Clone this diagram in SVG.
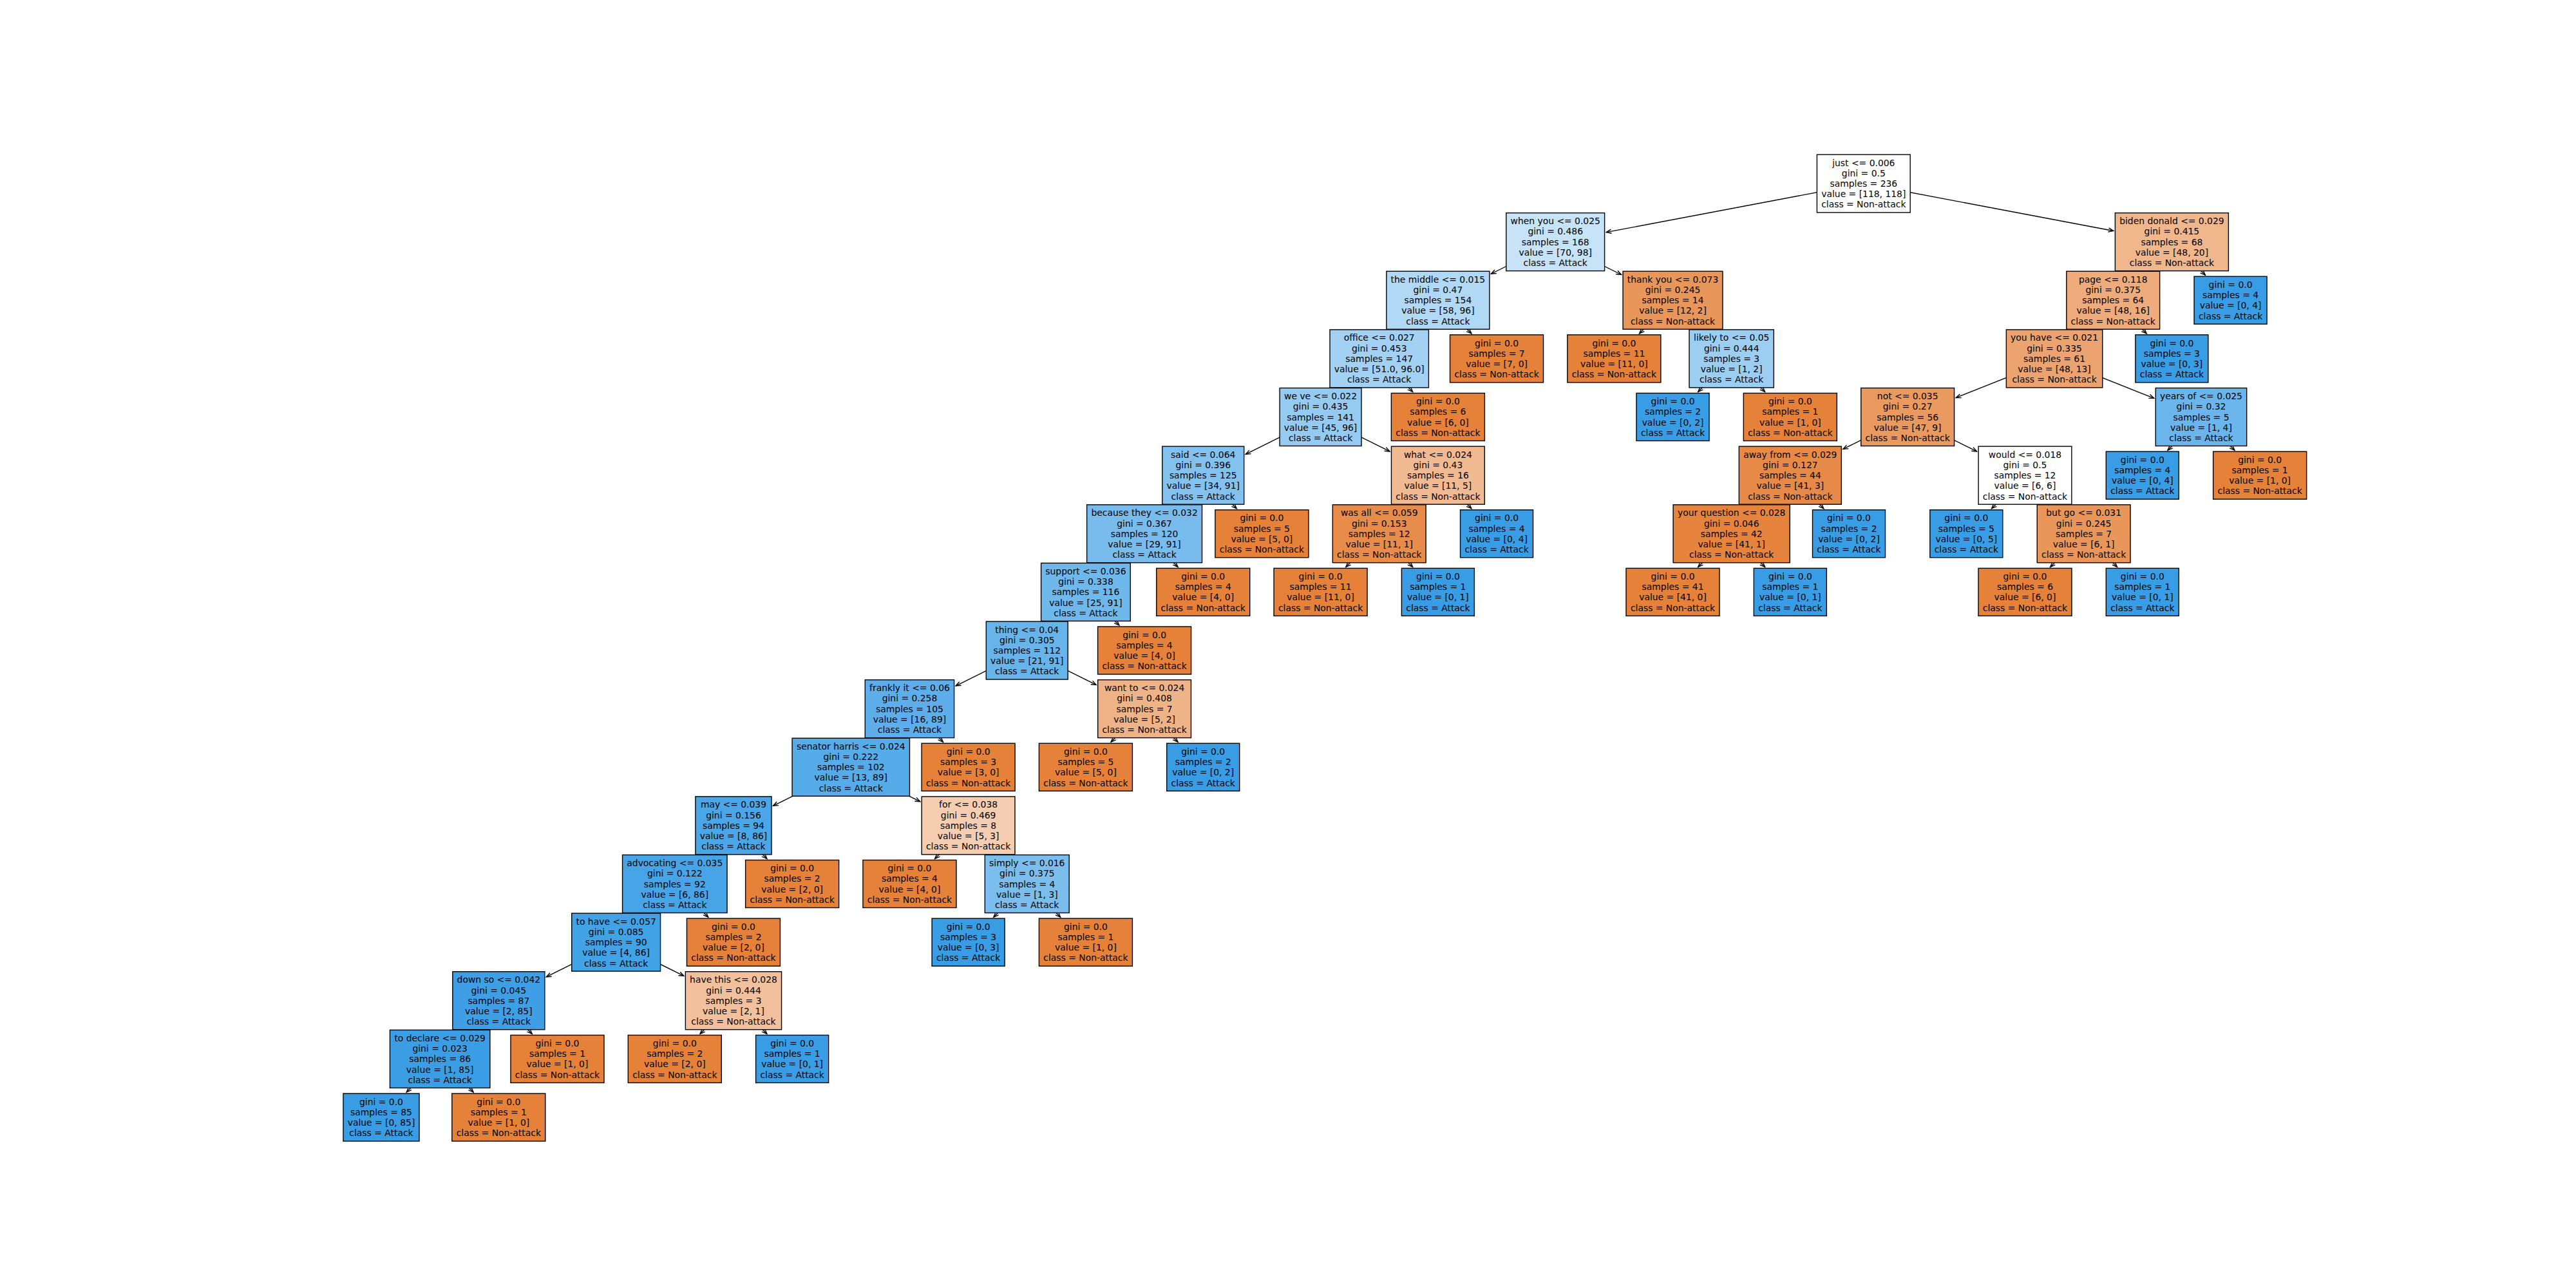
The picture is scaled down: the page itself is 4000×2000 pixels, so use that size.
<svg xmlns="http://www.w3.org/2000/svg" width="4000" height="2000" viewBox="0 0 4000 2000">
<style>
.e{stroke:#000;stroke-width:1.39;fill:none;marker-end:url(#ah)}
.b{stroke:#000;stroke-width:1.39}
.na{fill:#e58139}
.at{fill:#399de5}
text{font-family:"DejaVu Sans",sans-serif;font-size:13.9px;text-anchor:middle;fill:#000}
</style>
<defs>
<marker id="ah" viewBox="-10 -5 12 10" refX="0" refY="0" markerWidth="12" markerHeight="10" markerUnits="userSpaceOnUse" orient="auto">
<path d="M-7.8,-3.1 L0,0 L-7.8,3.1" fill="none" stroke="#000" stroke-width="1.39"/>
</marker>
</defs>
<rect width="4000" height="2000" fill="#fff"/>
<g id="connectors">
<line class="e" x1="2893.79" y1="285" x2="2494.36" y2="360.64"/>
<line class="e" x1="2893.79" y1="285" x2="3281.64" y2="358.45"/>
<line class="e" x1="2415.2" y1="375.63" x2="2315.38" y2="425.25"/>
<line class="e" x1="2415.2" y1="375.63" x2="2517.56" y2="426.5"/>
<line class="e" x1="2232.88" y1="466.25" x2="2188.98" y2="509.9"/>
<line class="e" x1="2232.88" y1="466.25" x2="2284.84" y2="517.9"/>
<line class="e" x1="2141.72" y1="556.88" x2="2097.82" y2="600.52"/>
<line class="e" x1="2141.72" y1="556.88" x2="2193.68" y2="608.52"/>
<line class="e" x1="2050.56" y1="647.5" x2="1934.2" y2="705.34"/>
<line class="e" x1="2050.56" y1="647.5" x2="2157.97" y2="700.89"/>
<line class="e" x1="1868.24" y1="738.13" x2="1824.34" y2="781.77"/>
<line class="e" x1="1868.24" y1="738.13" x2="1920.2" y2="789.77"/>
<line class="e" x1="1777.08" y1="828.75" x2="1733.18" y2="872.4"/>
<line class="e" x1="1777.08" y1="828.75" x2="1829.04" y2="880.4"/>
<line class="e" x1="1685.92" y1="919.38" x2="1642.02" y2="963.02"/>
<line class="e" x1="1685.92" y1="919.38" x2="1737.88" y2="971.02"/>
<line class="e" x1="1594.76" y1="1010" x2="1484.1" y2="1065.01"/>
<line class="e" x1="1594.76" y1="1010" x2="1702.17" y2="1063.39"/>
<line class="e" x1="1412.44" y1="1100.63" x2="1368.54" y2="1144.27"/>
<line class="e" x1="1412.44" y1="1100.63" x2="1464.4" y2="1152.27"/>
<line class="e" x1="1321.28" y1="1191.25" x2="1200.51" y2="1251.28"/>
<line class="e" x1="1321.28" y1="1191.25" x2="1428.69" y2="1244.64"/>
<line class="e" x1="1138.96" y1="1281.88" x2="1095.06" y2="1325.52"/>
<line class="e" x1="1138.96" y1="1281.88" x2="1190.92" y2="1333.52"/>
<line class="e" x1="1047.8" y1="1372.5" x2="1003.9" y2="1416.15"/>
<line class="e" x1="1047.8" y1="1372.5" x2="1099.76" y2="1424.15"/>
<line class="e" x1="956.64" y1="1463.13" x2="848.32" y2="1516.96"/>
<line class="e" x1="956.64" y1="1463.13" x2="1061.86" y2="1515.42"/>
<line class="e" x1="774.32" y1="1553.75" x2="730.42" y2="1597.4"/>
<line class="e" x1="774.32" y1="1553.75" x2="826.28" y2="1605.4"/>
<line class="e" x1="683.16" y1="1644.38" x2="631.2" y2="1696.02"/>
<line class="e" x1="683.16" y1="1644.38" x2="735.12" y2="1696.02"/>
<line class="e" x1="1138.96" y1="1553.75" x2="1087" y2="1605.4"/>
<line class="e" x1="1138.96" y1="1553.75" x2="1190.92" y2="1605.4"/>
<line class="e" x1="1503.6" y1="1281.88" x2="1451.64" y2="1333.52"/>
<line class="e" x1="1503.6" y1="1281.88" x2="1547.5" y2="1325.52"/>
<line class="e" x1="1594.76" y1="1372.5" x2="1542.8" y2="1424.15"/>
<line class="e" x1="1594.76" y1="1372.5" x2="1646.72" y2="1424.15"/>
<line class="e" x1="1777.08" y1="1100.63" x2="1725.12" y2="1152.27"/>
<line class="e" x1="1777.08" y1="1100.63" x2="1829.04" y2="1152.27"/>
<line class="e" x1="2232.88" y1="738.13" x2="2188.98" y2="781.77"/>
<line class="e" x1="2232.88" y1="738.13" x2="2284.84" y2="789.77"/>
<line class="e" x1="2141.72" y1="828.75" x2="2089.76" y2="880.4"/>
<line class="e" x1="2141.72" y1="828.75" x2="2193.68" y2="880.4"/>
<line class="e" x1="2597.52" y1="466.25" x2="2545.56" y2="517.9"/>
<line class="e" x1="2597.52" y1="466.25" x2="2641.42" y2="509.9"/>
<line class="e" x1="2688.68" y1="556.88" x2="2636.72" y2="608.52"/>
<line class="e" x1="2688.68" y1="556.88" x2="2740.64" y2="608.52"/>
<line class="e" x1="3372.38" y1="375.63" x2="3328.48" y2="419.27"/>
<line class="e" x1="3372.38" y1="375.63" x2="3424.34" y2="427.27"/>
<line class="e" x1="3281.22" y1="466.25" x2="3237.32" y2="509.9"/>
<line class="e" x1="3281.22" y1="466.25" x2="3333.18" y2="517.9"/>
<line class="e" x1="3190.06" y1="556.88" x2="3037.16" y2="617.67"/>
<line class="e" x1="3190.06" y1="556.88" x2="3344.67" y2="618.35"/>
<line class="e" x1="2962.16" y1="647.5" x2="2861.85" y2="697.37"/>
<line class="e" x1="2962.16" y1="647.5" x2="3069.57" y2="700.89"/>
<line class="e" x1="2779.84" y1="738.13" x2="2735.94" y2="781.77"/>
<line class="e" x1="2779.84" y1="738.13" x2="2831.8" y2="789.77"/>
<line class="e" x1="2688.68" y1="828.75" x2="2636.72" y2="880.4"/>
<line class="e" x1="2688.68" y1="828.75" x2="2740.64" y2="880.4"/>
<line class="e" x1="3144.48" y1="738.13" x2="3092.52" y2="789.77"/>
<line class="e" x1="3144.48" y1="738.13" x2="3188.38" y2="781.77"/>
<line class="e" x1="3235.64" y1="828.75" x2="3183.68" y2="880.4"/>
<line class="e" x1="3235.64" y1="828.75" x2="3287.6" y2="880.4"/>
<line class="e" x1="3417.96" y1="647.5" x2="3366" y2="699.15"/>
<line class="e" x1="3417.96" y1="647.5" x2="3469.92" y2="699.15"/>
</g>
<g id="nodes">
<g id="n-root" transform="translate(2893.79,285)"><rect class="b" x="-72.4" y="-45" width="144.8" height="90" fill="#ffffff"/><text><tspan x="0" y="-27.4">just &lt;= 0.006</tspan><tspan x="0" y="-11.2">gini = 0.5</tspan><tspan x="0" y="5">samples = 236</tspan><tspan x="0" y="21.2">value = [118, 118]</tspan><tspan x="0" y="37.4">class = Non-attack</tspan></text></g>
<g id="n-when-you" transform="translate(2415.2,375.63)"><rect class="b" x="-76.4" y="-45" width="152.8" height="90" fill="#c6e3f8"/><text><tspan x="0" y="-27.4">when you &lt;= 0.025</tspan><tspan x="0" y="-11.2">gini = 0.486</tspan><tspan x="0" y="5">samples = 168</tspan><tspan x="0" y="21.2">value = [70, 98]</tspan><tspan x="0" y="37.4">class = Attack</tspan></text></g>
<g id="n-biden-donald" transform="translate(3372.38,375.63)"><rect class="b" x="-88" y="-45" width="176" height="90" fill="#f0b68c"/><text><tspan x="0" y="-27.4">biden donald &lt;= 0.029</tspan><tspan x="0" y="-11.2">gini = 0.415</tspan><tspan x="0" y="5">samples = 68</tspan><tspan x="0" y="21.2">value = [48, 20]</tspan><tspan x="0" y="37.4">class = Non-attack</tspan></text></g>
<g id="n-the-middle" transform="translate(2232.88,466.25)"><rect class="b" x="-80" y="-45" width="160" height="90" fill="#b1d8f5"/><text><tspan x="0" y="-27.4">the middle &lt;= 0.015</tspan><tspan x="0" y="-11.2">gini = 0.47</tspan><tspan x="0" y="5">samples = 154</tspan><tspan x="0" y="21.2">value = [58, 96]</tspan><tspan x="0" y="37.4">class = Attack</tspan></text></g>
<g id="n-thank-you" transform="translate(2597.52,466.25)"><rect class="b" x="-77.45" y="-45" width="154.9" height="90" fill="#e9965a"/><text><tspan x="0" y="-27.4">thank you &lt;= 0.073</tspan><tspan x="0" y="-11.2">gini = 0.245</tspan><tspan x="0" y="5">samples = 14</tspan><tspan x="0" y="21.2">value = [12, 2]</tspan><tspan x="0" y="37.4">class = Non-attack</tspan></text></g>
<g id="n-page" transform="translate(3281.22,466.25)"><rect class="b" x="-72.4" y="-45" width="144.8" height="90" fill="#eeab7b"/><text><tspan x="0" y="-27.4">page &lt;= 0.118</tspan><tspan x="0" y="-11.2">gini = 0.375</tspan><tspan x="0" y="5">samples = 64</tspan><tspan x="0" y="21.2">value = [48, 16]</tspan><tspan x="0" y="37.4">class = Non-attack</tspan></text></g>
<g id="n-leaf-b-r" transform="translate(3463.54,466.25)"><rect class="b at" x="-56.5" y="-37" width="113" height="74"/><text><tspan x="0" y="-19.3">gini = 0.0</tspan><tspan x="0" y="-3.1">samples = 4</tspan><tspan x="0" y="13.1">value = [0, 4]</tspan><tspan x="0" y="29.3">class = Attack</tspan></text></g>
<g id="n-office" transform="translate(2141.72,556.88)"><rect class="b" x="-76.7" y="-45" width="153.4" height="90" fill="#a2d1f3"/><text><tspan x="0" y="-27.4">office &lt;= 0.027</tspan><tspan x="0" y="-11.2">gini = 0.453</tspan><tspan x="0" y="5">samples = 147</tspan><tspan x="0" y="21.2">value = [51.0, 96.0]</tspan><tspan x="0" y="37.4">class = Attack</tspan></text></g>
<g id="n-leaf-tm-r" transform="translate(2324.04,556.88)"><rect class="b na" x="-72.5" y="-37" width="145" height="74"/><text><tspan x="0" y="-19.3">gini = 0.0</tspan><tspan x="0" y="-3.1">samples = 7</tspan><tspan x="0" y="13.1">value = [7, 0]</tspan><tspan x="0" y="29.3">class = Non-attack</tspan></text></g>
<g id="n-leaf-ty-l" transform="translate(2506.36,556.88)"><rect class="b na" x="-72.5" y="-37" width="145" height="74"/><text><tspan x="0" y="-19.3">gini = 0.0</tspan><tspan x="0" y="-3.1">samples = 11</tspan><tspan x="0" y="13.1">value = [11, 0]</tspan><tspan x="0" y="29.3">class = Non-attack</tspan></text></g>
<g id="n-likely-to" transform="translate(2688.68,556.88)"><rect class="b" x="-65.65" y="-45" width="131.3" height="90" fill="#9ccef2"/><text><tspan x="0" y="-27.4">likely to &lt;= 0.05</tspan><tspan x="0" y="-11.2">gini = 0.444</tspan><tspan x="0" y="5">samples = 3</tspan><tspan x="0" y="21.2">value = [1, 2]</tspan><tspan x="0" y="37.4">class = Attack</tspan></text></g>
<g id="n-you-have" transform="translate(3190.06,556.88)"><rect class="b" x="-74.7" y="-45" width="149.4" height="90" fill="#eca36f"/><text><tspan x="0" y="-27.4">you have &lt;= 0.021</tspan><tspan x="0" y="-11.2">gini = 0.335</tspan><tspan x="0" y="5">samples = 61</tspan><tspan x="0" y="21.2">value = [48, 13]</tspan><tspan x="0" y="37.4">class = Non-attack</tspan></text></g>
<g id="n-leaf-pg-r" transform="translate(3372.38,556.88)"><rect class="b at" x="-56.5" y="-37" width="113" height="74"/><text><tspan x="0" y="-19.3">gini = 0.0</tspan><tspan x="0" y="-3.1">samples = 3</tspan><tspan x="0" y="13.1">value = [0, 3]</tspan><tspan x="0" y="29.3">class = Attack</tspan></text></g>
<g id="n-we-ve" transform="translate(2050.56,647.5)"><rect class="b" x="-63.45" y="-45" width="126.9" height="90" fill="#96cbf1"/><text><tspan x="0" y="-27.4">we ve &lt;= 0.022</tspan><tspan x="0" y="-11.2">gini = 0.435</tspan><tspan x="0" y="5">samples = 141</tspan><tspan x="0" y="21.2">value = [45, 96]</tspan><tspan x="0" y="37.4">class = Attack</tspan></text></g>
<g id="n-leaf-of-r" transform="translate(2232.88,647.5)"><rect class="b na" x="-72.5" y="-37" width="145" height="74"/><text><tspan x="0" y="-19.3">gini = 0.0</tspan><tspan x="0" y="-3.1">samples = 6</tspan><tspan x="0" y="13.1">value = [6, 0]</tspan><tspan x="0" y="29.3">class = Non-attack</tspan></text></g>
<g id="n-leaf-lt-l" transform="translate(2597.52,647.5)"><rect class="b at" x="-56.5" y="-37" width="113" height="74"/><text><tspan x="0" y="-19.3">gini = 0.0</tspan><tspan x="0" y="-3.1">samples = 2</tspan><tspan x="0" y="13.1">value = [0, 2]</tspan><tspan x="0" y="29.3">class = Attack</tspan></text></g>
<g id="n-leaf-lt-r" transform="translate(2779.84,647.5)"><rect class="b na" x="-72.5" y="-37" width="145" height="74"/><text><tspan x="0" y="-19.3">gini = 0.0</tspan><tspan x="0" y="-3.1">samples = 1</tspan><tspan x="0" y="13.1">value = [1, 0]</tspan><tspan x="0" y="29.3">class = Non-attack</tspan></text></g>
<g id="n-not" transform="translate(2962.16,647.5)"><rect class="b" x="-72.4" y="-45" width="144.8" height="90" fill="#ea995f"/><text><tspan x="0" y="-27.4">not &lt;= 0.035</tspan><tspan x="0" y="-11.2">gini = 0.27</tspan><tspan x="0" y="5">samples = 56</tspan><tspan x="0" y="21.2">value = [47, 9]</tspan><tspan x="0" y="37.4">class = Non-attack</tspan></text></g>
<g id="n-years-of" transform="translate(3417.96,647.5)"><rect class="b" x="-70.7" y="-45" width="141.4" height="90" fill="#6ab6ec"/><text><tspan x="0" y="-27.4">years of &lt;= 0.025</tspan><tspan x="0" y="-11.2">gini = 0.32</tspan><tspan x="0" y="5">samples = 5</tspan><tspan x="0" y="21.2">value = [1, 4]</tspan><tspan x="0" y="37.4">class = Attack</tspan></text></g>
<g id="n-said" transform="translate(1868.24,738.13)"><rect class="b" x="-63.45" y="-45" width="126.9" height="90" fill="#83c2ef"/><text><tspan x="0" y="-27.4">said &lt;= 0.064</tspan><tspan x="0" y="-11.2">gini = 0.396</tspan><tspan x="0" y="5">samples = 125</tspan><tspan x="0" y="21.2">value = [34, 91]</tspan><tspan x="0" y="37.4">class = Attack</tspan></text></g>
<g id="n-what" transform="translate(2232.88,738.13)"><rect class="b" x="-72.4" y="-45" width="144.8" height="90" fill="#f1ba93"/><text><tspan x="0" y="-27.4">what &lt;= 0.024</tspan><tspan x="0" y="-11.2">gini = 0.43</tspan><tspan x="0" y="5">samples = 16</tspan><tspan x="0" y="21.2">value = [11, 5]</tspan><tspan x="0" y="37.4">class = Non-attack</tspan></text></g>
<g id="n-away-from" transform="translate(2779.84,738.13)"><rect class="b" x="-79.5" y="-45" width="159" height="90" fill="#e78a48"/><text><tspan x="0" y="-27.4">away from &lt;= 0.029</tspan><tspan x="0" y="-11.2">gini = 0.127</tspan><tspan x="0" y="5">samples = 44</tspan><tspan x="0" y="21.2">value = [41, 3]</tspan><tspan x="0" y="37.4">class = Non-attack</tspan></text></g>
<g id="n-would" transform="translate(3144.48,738.13)"><rect class="b" x="-72.4" y="-45" width="144.8" height="90" fill="#ffffff"/><text><tspan x="0" y="-27.4">would &lt;= 0.018</tspan><tspan x="0" y="-11.2">gini = 0.5</tspan><tspan x="0" y="5">samples = 12</tspan><tspan x="0" y="21.2">value = [6, 6]</tspan><tspan x="0" y="37.4">class = Non-attack</tspan></text></g>
<g id="n-leaf-yo-l" transform="translate(3326.8,738.13)"><rect class="b at" x="-56.5" y="-37" width="113" height="74"/><text><tspan x="0" y="-19.3">gini = 0.0</tspan><tspan x="0" y="-3.1">samples = 4</tspan><tspan x="0" y="13.1">value = [0, 4]</tspan><tspan x="0" y="29.3">class = Attack</tspan></text></g>
<g id="n-leaf-yo-r" transform="translate(3509.12,738.13)"><rect class="b na" x="-72.5" y="-37" width="145" height="74"/><text><tspan x="0" y="-19.3">gini = 0.0</tspan><tspan x="0" y="-3.1">samples = 1</tspan><tspan x="0" y="13.1">value = [1, 0]</tspan><tspan x="0" y="29.3">class = Non-attack</tspan></text></g>
<g id="n-because-they" transform="translate(1777.08,828.75)"><rect class="b" x="-89.45" y="-45" width="178.9" height="90" fill="#78bced"/><text><tspan x="0" y="-27.4">because they &lt;= 0.032</tspan><tspan x="0" y="-11.2">gini = 0.367</tspan><tspan x="0" y="5">samples = 120</tspan><tspan x="0" y="21.2">value = [29, 91]</tspan><tspan x="0" y="37.4">class = Attack</tspan></text></g>
<g id="n-leaf-sd-r" transform="translate(1959.4,828.75)"><rect class="b na" x="-72.5" y="-37" width="145" height="74"/><text><tspan x="0" y="-19.3">gini = 0.0</tspan><tspan x="0" y="-3.1">samples = 5</tspan><tspan x="0" y="13.1">value = [5, 0]</tspan><tspan x="0" y="29.3">class = Non-attack</tspan></text></g>
<g id="n-was-all" transform="translate(2141.72,828.75)"><rect class="b" x="-72.4" y="-45" width="144.8" height="90" fill="#e78c4b"/><text><tspan x="0" y="-27.4">was all &lt;= 0.059</tspan><tspan x="0" y="-11.2">gini = 0.153</tspan><tspan x="0" y="5">samples = 12</tspan><tspan x="0" y="21.2">value = [11, 1]</tspan><tspan x="0" y="37.4">class = Non-attack</tspan></text></g>
<g id="n-leaf-wh-r" transform="translate(2324.04,828.75)"><rect class="b at" x="-56.5" y="-37" width="113" height="74"/><text><tspan x="0" y="-19.3">gini = 0.0</tspan><tspan x="0" y="-3.1">samples = 4</tspan><tspan x="0" y="13.1">value = [0, 4]</tspan><tspan x="0" y="29.3">class = Attack</tspan></text></g>
<g id="n-your-question" transform="translate(2688.68,828.75)"><rect class="b" x="-90.55" y="-45" width="181.1" height="90" fill="#e6843e"/><text><tspan x="0" y="-27.4">your question &lt;= 0.028</tspan><tspan x="0" y="-11.2">gini = 0.046</tspan><tspan x="0" y="5">samples = 42</tspan><tspan x="0" y="21.2">value = [41, 1]</tspan><tspan x="0" y="37.4">class = Non-attack</tspan></text></g>
<g id="n-leaf-af-r" transform="translate(2871,828.75)"><rect class="b at" x="-56.5" y="-37" width="113" height="74"/><text><tspan x="0" y="-19.3">gini = 0.0</tspan><tspan x="0" y="-3.1">samples = 2</tspan><tspan x="0" y="13.1">value = [0, 2]</tspan><tspan x="0" y="29.3">class = Attack</tspan></text></g>
<g id="n-leaf-wd-l" transform="translate(3053.32,828.75)"><rect class="b at" x="-56.5" y="-37" width="113" height="74"/><text><tspan x="0" y="-19.3">gini = 0.0</tspan><tspan x="0" y="-3.1">samples = 5</tspan><tspan x="0" y="13.1">value = [0, 5]</tspan><tspan x="0" y="29.3">class = Attack</tspan></text></g>
<g id="n-but-go" transform="translate(3235.64,828.75)"><rect class="b" x="-72.4" y="-45" width="144.8" height="90" fill="#e9965a"/><text><tspan x="0" y="-27.4">but go &lt;= 0.031</tspan><tspan x="0" y="-11.2">gini = 0.245</tspan><tspan x="0" y="5">samples = 7</tspan><tspan x="0" y="21.2">value = [6, 1]</tspan><tspan x="0" y="37.4">class = Non-attack</tspan></text></g>
<g id="n-support" transform="translate(1685.92,919.38)"><rect class="b" x="-69.35" y="-45" width="138.7" height="90" fill="#6fb8ec"/><text><tspan x="0" y="-27.4">support &lt;= 0.036</tspan><tspan x="0" y="-11.2">gini = 0.338</tspan><tspan x="0" y="5">samples = 116</tspan><tspan x="0" y="21.2">value = [25, 91]</tspan><tspan x="0" y="37.4">class = Attack</tspan></text></g>
<g id="n-leaf-bt-r" transform="translate(1868.24,919.38)"><rect class="b na" x="-72.5" y="-37" width="145" height="74"/><text><tspan x="0" y="-19.3">gini = 0.0</tspan><tspan x="0" y="-3.1">samples = 4</tspan><tspan x="0" y="13.1">value = [4, 0]</tspan><tspan x="0" y="29.3">class = Non-attack</tspan></text></g>
<g id="n-leaf-wa-l" transform="translate(2050.56,919.38)"><rect class="b na" x="-72.5" y="-37" width="145" height="74"/><text><tspan x="0" y="-19.3">gini = 0.0</tspan><tspan x="0" y="-3.1">samples = 11</tspan><tspan x="0" y="13.1">value = [11, 0]</tspan><tspan x="0" y="29.3">class = Non-attack</tspan></text></g>
<g id="n-leaf-wa-r" transform="translate(2232.88,919.38)"><rect class="b at" x="-56.5" y="-37" width="113" height="74"/><text><tspan x="0" y="-19.3">gini = 0.0</tspan><tspan x="0" y="-3.1">samples = 1</tspan><tspan x="0" y="13.1">value = [0, 1]</tspan><tspan x="0" y="29.3">class = Attack</tspan></text></g>
<g id="n-leaf-yq-l" transform="translate(2597.52,919.38)"><rect class="b na" x="-72.5" y="-37" width="145" height="74"/><text><tspan x="0" y="-19.3">gini = 0.0</tspan><tspan x="0" y="-3.1">samples = 41</tspan><tspan x="0" y="13.1">value = [41, 0]</tspan><tspan x="0" y="29.3">class = Non-attack</tspan></text></g>
<g id="n-leaf-yq-r" transform="translate(2779.84,919.38)"><rect class="b at" x="-56.5" y="-37" width="113" height="74"/><text><tspan x="0" y="-19.3">gini = 0.0</tspan><tspan x="0" y="-3.1">samples = 1</tspan><tspan x="0" y="13.1">value = [0, 1]</tspan><tspan x="0" y="29.3">class = Attack</tspan></text></g>
<g id="n-leaf-bg-l" transform="translate(3144.48,919.38)"><rect class="b na" x="-72.5" y="-37" width="145" height="74"/><text><tspan x="0" y="-19.3">gini = 0.0</tspan><tspan x="0" y="-3.1">samples = 6</tspan><tspan x="0" y="13.1">value = [6, 0]</tspan><tspan x="0" y="29.3">class = Non-attack</tspan></text></g>
<g id="n-leaf-bg-r" transform="translate(3326.8,919.38)"><rect class="b at" x="-56.5" y="-37" width="113" height="74"/><text><tspan x="0" y="-19.3">gini = 0.0</tspan><tspan x="0" y="-3.1">samples = 1</tspan><tspan x="0" y="13.1">value = [0, 1]</tspan><tspan x="0" y="29.3">class = Attack</tspan></text></g>
<g id="n-thing" transform="translate(1594.76,1010)"><rect class="b" x="-63.45" y="-45" width="126.9" height="90" fill="#67b4eb"/><text><tspan x="0" y="-27.4">thing &lt;= 0.04</tspan><tspan x="0" y="-11.2">gini = 0.305</tspan><tspan x="0" y="5">samples = 112</tspan><tspan x="0" y="21.2">value = [21, 91]</tspan><tspan x="0" y="37.4">class = Attack</tspan></text></g>
<g id="n-leaf-sp-r" transform="translate(1777.08,1010)"><rect class="b na" x="-72.5" y="-37" width="145" height="74"/><text><tspan x="0" y="-19.3">gini = 0.0</tspan><tspan x="0" y="-3.1">samples = 4</tspan><tspan x="0" y="13.1">value = [4, 0]</tspan><tspan x="0" y="29.3">class = Non-attack</tspan></text></g>
<g id="n-frankly-it" transform="translate(1412.44,1100.63)"><rect class="b" x="-69.15" y="-45" width="138.3" height="90" fill="#5daeea"/><text><tspan x="0" y="-27.4">frankly it &lt;= 0.06</tspan><tspan x="0" y="-11.2">gini = 0.258</tspan><tspan x="0" y="5">samples = 105</tspan><tspan x="0" y="21.2">value = [16, 89]</tspan><tspan x="0" y="37.4">class = Attack</tspan></text></g>
<g id="n-want-to" transform="translate(1777.08,1100.63)"><rect class="b" x="-72.4" y="-45" width="144.8" height="90" fill="#efb388"/><text><tspan x="0" y="-27.4">want to &lt;= 0.024</tspan><tspan x="0" y="-11.2">gini = 0.408</tspan><tspan x="0" y="5">samples = 7</tspan><tspan x="0" y="21.2">value = [5, 2]</tspan><tspan x="0" y="37.4">class = Non-attack</tspan></text></g>
<g id="n-senator-harris" transform="translate(1321.28,1191.25)"><rect class="b" x="-91.2" y="-45" width="182.4" height="90" fill="#56abe9"/><text><tspan x="0" y="-27.4">senator harris &lt;= 0.024</tspan><tspan x="0" y="-11.2">gini = 0.222</tspan><tspan x="0" y="5">samples = 102</tspan><tspan x="0" y="21.2">value = [13, 89]</tspan><tspan x="0" y="37.4">class = Attack</tspan></text></g>
<g id="n-leaf-fi-r" transform="translate(1503.6,1191.25)"><rect class="b na" x="-72.5" y="-37" width="145" height="74"/><text><tspan x="0" y="-19.3">gini = 0.0</tspan><tspan x="0" y="-3.1">samples = 3</tspan><tspan x="0" y="13.1">value = [3, 0]</tspan><tspan x="0" y="29.3">class = Non-attack</tspan></text></g>
<g id="n-leaf-wt-l" transform="translate(1685.92,1191.25)"><rect class="b na" x="-72.5" y="-37" width="145" height="74"/><text><tspan x="0" y="-19.3">gini = 0.0</tspan><tspan x="0" y="-3.1">samples = 5</tspan><tspan x="0" y="13.1">value = [5, 0]</tspan><tspan x="0" y="29.3">class = Non-attack</tspan></text></g>
<g id="n-leaf-wt-r" transform="translate(1868.24,1191.25)"><rect class="b at" x="-56.5" y="-37" width="113" height="74"/><text><tspan x="0" y="-19.3">gini = 0.0</tspan><tspan x="0" y="-3.1">samples = 2</tspan><tspan x="0" y="13.1">value = [0, 2]</tspan><tspan x="0" y="29.3">class = Attack</tspan></text></g>
<g id="n-may" transform="translate(1138.96,1281.88)"><rect class="b" x="-59.05" y="-45" width="118.1" height="90" fill="#4ba6e7"/><text><tspan x="0" y="-27.4">may &lt;= 0.039</tspan><tspan x="0" y="-11.2">gini = 0.156</tspan><tspan x="0" y="5">samples = 94</tspan><tspan x="0" y="21.2">value = [8, 86]</tspan><tspan x="0" y="37.4">class = Attack</tspan></text></g>
<g id="n-for" transform="translate(1503.6,1281.88)"><rect class="b" x="-72.4" y="-45" width="144.8" height="90" fill="#f5cdb0"/><text><tspan x="0" y="-27.4">for &lt;= 0.038</tspan><tspan x="0" y="-11.2">gini = 0.469</tspan><tspan x="0" y="5">samples = 8</tspan><tspan x="0" y="21.2">value = [5, 3]</tspan><tspan x="0" y="37.4">class = Non-attack</tspan></text></g>
<g id="n-advocating" transform="translate(1047.8,1372.5)"><rect class="b" x="-81.25" y="-45" width="162.5" height="90" fill="#47a4e7"/><text><tspan x="0" y="-27.4">advocating &lt;= 0.035</tspan><tspan x="0" y="-11.2">gini = 0.122</tspan><tspan x="0" y="5">samples = 92</tspan><tspan x="0" y="21.2">value = [6, 86]</tspan><tspan x="0" y="37.4">class = Attack</tspan></text></g>
<g id="n-leaf-my-r" transform="translate(1230.12,1372.5)"><rect class="b na" x="-72.5" y="-37" width="145" height="74"/><text><tspan x="0" y="-19.3">gini = 0.0</tspan><tspan x="0" y="-3.1">samples = 2</tspan><tspan x="0" y="13.1">value = [2, 0]</tspan><tspan x="0" y="29.3">class = Non-attack</tspan></text></g>
<g id="n-leaf-fr-l" transform="translate(1412.44,1372.5)"><rect class="b na" x="-72.5" y="-37" width="145" height="74"/><text><tspan x="0" y="-19.3">gini = 0.0</tspan><tspan x="0" y="-3.1">samples = 4</tspan><tspan x="0" y="13.1">value = [4, 0]</tspan><tspan x="0" y="29.3">class = Non-attack</tspan></text></g>
<g id="n-simply" transform="translate(1594.76,1372.5)"><rect class="b" x="-65.45" y="-45" width="130.9" height="90" fill="#7bbeee"/><text><tspan x="0" y="-27.4">simply &lt;= 0.016</tspan><tspan x="0" y="-11.2">gini = 0.375</tspan><tspan x="0" y="5">samples = 4</tspan><tspan x="0" y="21.2">value = [1, 3]</tspan><tspan x="0" y="37.4">class = Attack</tspan></text></g>
<g id="n-to-have" transform="translate(956.64,1463.13)"><rect class="b" x="-68.9" y="-45" width="137.8" height="90" fill="#42a2e6"/><text><tspan x="0" y="-27.4">to have &lt;= 0.057</tspan><tspan x="0" y="-11.2">gini = 0.085</tspan><tspan x="0" y="5">samples = 90</tspan><tspan x="0" y="21.2">value = [4, 86]</tspan><tspan x="0" y="37.4">class = Attack</tspan></text></g>
<g id="n-leaf-ad-r" transform="translate(1138.96,1463.13)"><rect class="b na" x="-72.5" y="-37" width="145" height="74"/><text><tspan x="0" y="-19.3">gini = 0.0</tspan><tspan x="0" y="-3.1">samples = 2</tspan><tspan x="0" y="13.1">value = [2, 0]</tspan><tspan x="0" y="29.3">class = Non-attack</tspan></text></g>
<g id="n-leaf-si-l" transform="translate(1503.6,1463.13)"><rect class="b at" x="-56.5" y="-37" width="113" height="74"/><text><tspan x="0" y="-19.3">gini = 0.0</tspan><tspan x="0" y="-3.1">samples = 3</tspan><tspan x="0" y="13.1">value = [0, 3]</tspan><tspan x="0" y="29.3">class = Attack</tspan></text></g>
<g id="n-leaf-si-r" transform="translate(1685.92,1463.13)"><rect class="b na" x="-72.5" y="-37" width="145" height="74"/><text><tspan x="0" y="-19.3">gini = 0.0</tspan><tspan x="0" y="-3.1">samples = 1</tspan><tspan x="0" y="13.1">value = [1, 0]</tspan><tspan x="0" y="29.3">class = Non-attack</tspan></text></g>
<g id="n-down-so" transform="translate(774.32,1553.75)"><rect class="b" x="-71.5" y="-45" width="143" height="90" fill="#3e9fe6"/><text><tspan x="0" y="-27.4">down so &lt;= 0.042</tspan><tspan x="0" y="-11.2">gini = 0.045</tspan><tspan x="0" y="5">samples = 87</tspan><tspan x="0" y="21.2">value = [2, 85]</tspan><tspan x="0" y="37.4">class = Attack</tspan></text></g>
<g id="n-have-this" transform="translate(1138.96,1553.75)"><rect class="b" x="-74.6" y="-45" width="149.2" height="90" fill="#f2c09c"/><text><tspan x="0" y="-27.4">have this &lt;= 0.028</tspan><tspan x="0" y="-11.2">gini = 0.444</tspan><tspan x="0" y="5">samples = 3</tspan><tspan x="0" y="21.2">value = [2, 1]</tspan><tspan x="0" y="37.4">class = Non-attack</tspan></text></g>
<g id="n-to-declare" transform="translate(683.16,1644.38)"><rect class="b" x="-77.7" y="-45" width="155.4" height="90" fill="#3b9ee5"/><text><tspan x="0" y="-27.4">to declare &lt;= 0.029</tspan><tspan x="0" y="-11.2">gini = 0.023</tspan><tspan x="0" y="5">samples = 86</tspan><tspan x="0" y="21.2">value = [1, 85]</tspan><tspan x="0" y="37.4">class = Attack</tspan></text></g>
<g id="n-leaf-ds-r" transform="translate(865.48,1644.38)"><rect class="b na" x="-72.5" y="-37" width="145" height="74"/><text><tspan x="0" y="-19.3">gini = 0.0</tspan><tspan x="0" y="-3.1">samples = 1</tspan><tspan x="0" y="13.1">value = [1, 0]</tspan><tspan x="0" y="29.3">class = Non-attack</tspan></text></g>
<g id="n-leaf-ht-l" transform="translate(1047.8,1644.38)"><rect class="b na" x="-72.5" y="-37" width="145" height="74"/><text><tspan x="0" y="-19.3">gini = 0.0</tspan><tspan x="0" y="-3.1">samples = 2</tspan><tspan x="0" y="13.1">value = [2, 0]</tspan><tspan x="0" y="29.3">class = Non-attack</tspan></text></g>
<g id="n-leaf-ht-r" transform="translate(1230.12,1644.38)"><rect class="b at" x="-56.5" y="-37" width="113" height="74"/><text><tspan x="0" y="-19.3">gini = 0.0</tspan><tspan x="0" y="-3.1">samples = 1</tspan><tspan x="0" y="13.1">value = [0, 1]</tspan><tspan x="0" y="29.3">class = Attack</tspan></text></g>
<g id="n-leaf-td-l" transform="translate(592,1735)"><rect class="b at" x="-59" y="-37" width="118" height="74"/><text><tspan x="0" y="-19.3">gini = 0.0</tspan><tspan x="0" y="-3.1">samples = 85</tspan><tspan x="0" y="13.1">value = [0, 85]</tspan><tspan x="0" y="29.3">class = Attack</tspan></text></g>
<g id="n-leaf-td-r" transform="translate(774.32,1735)"><rect class="b na" x="-72.5" y="-37" width="145" height="74"/><text><tspan x="0" y="-19.3">gini = 0.0</tspan><tspan x="0" y="-3.1">samples = 1</tspan><tspan x="0" y="13.1">value = [1, 0]</tspan><tspan x="0" y="29.3">class = Non-attack</tspan></text></g>
</g>
</svg>
